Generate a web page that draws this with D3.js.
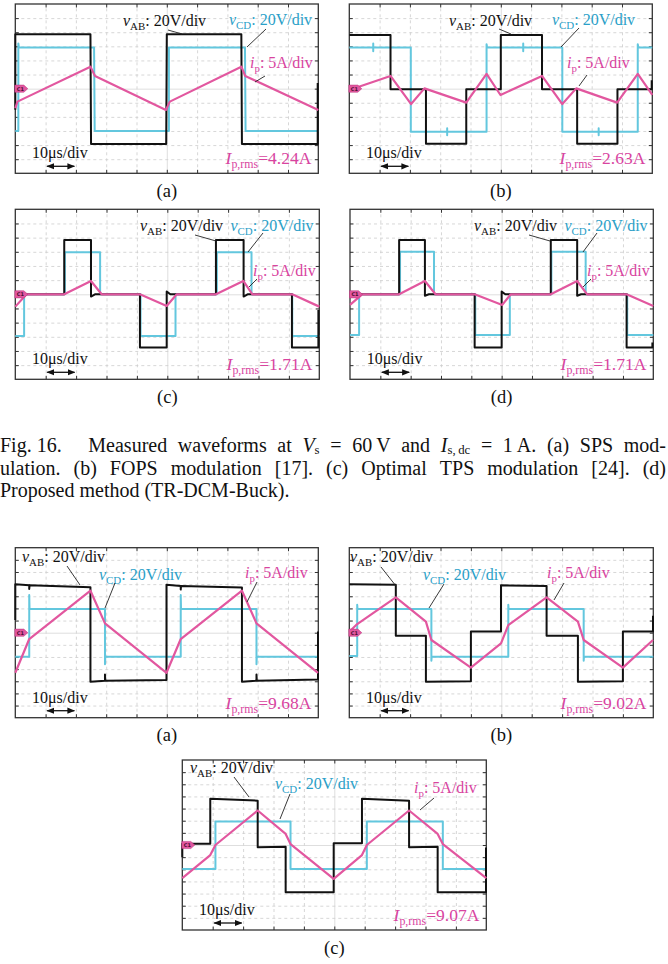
<!DOCTYPE html>
<html><head><meta charset="utf-8">
<script src="https://cdn.jsdelivr.net/npm/d3@7"></script>
<style>body{margin:0;background:#fff}svg{display:block}</style>
</head><body>
<svg id="fig" width="668" height="964"></svg>
<script>
// ===== DATA (time in divisions 0..10, level in grid-tick units, 0 = screen centre) =====
// Fig. 16 (a) SPS
const f16a_vAB = [[0,-1.5],[0,3.85],[2.48,3.85],[2.5,-3.92],[4.98,-3.92],[5.0,3.85],[7.46,3.85],[7.48,-3.92],[9.98,-3.92],[9.98,0.4]];
const f16a_vCD = [[0,-3.0],[0.1,-3.0],[0.1,3.2],[0.12,2.91],[2.6,2.91],[2.62,-3.0],[5.07,-3.0],[5.07,2.91],[7.58,2.91],[7.6,-3.0],[10,-3.0]];
const f16a_ip  = [[0,-1.39],[0.07,-0.92],[2.48,1.56],[2.63,0.9],[4.97,-1.51],[5.1,-0.92],[7.46,1.56],[7.59,0.9],[10,-1.51]];
// Fig. 16 (b) FOPS
const f16b_vAB = [[0,3.8],[1.36,3.8],[1.36,-0.05],[2.53,-0.05],[2.53,-3.9],[3.86,-3.9],[3.86,-0.05],[5.0,-0.05],[5.0,3.8],[6.36,3.8],[6.36,-0.05],[7.52,-0.05],[7.52,-3.9],[8.85,-3.9],[8.85,-0.05],[9.98,-0.05],[9.98,0.6]];
const f16b_vCD = [[0,2.91],[0.79,2.91],[0.79,3.2],[0.79,2.65],[0.79,2.91],[2.03,2.91],[2.03,-3.05],[3.23,-3.05],[3.23,-2.8],[3.23,-3.3],[3.23,-3.05],[4.53,-3.05],[4.53,3.15],[4.55,2.91],[5.74,2.91],[5.74,3.2],[5.74,2.65],[5.74,2.91],[7.03,2.91],[7.03,-3.05],[8.23,-3.05],[8.23,-2.8],[8.23,-3.3],[8.23,-3.05],[9.52,-3.05],[9.52,3.15],[9.54,2.91],[10,2.91]];
const f16b_ip  = [[0,-0.1],[1.36,0.9],[2.04,-1.09],[2.48,0.02],[3.86,-0.99],[4.53,1.04],[4.99,-0.45],[6.36,0.9],[7.03,-1.09],[7.49,0.02],[8.84,-0.99],[9.52,1.04],[10,-0.45]];
// Fig. 16 (c) optimal TPS
const f16c_vAB = [[0,0],[1.61,0],[1.61,3.84],[2.49,3.84],[2.49,-0.16],[2.62,0],[4.1,0],[4.1,-3.76],[4.98,-3.76],[4.98,0.2],[5.1,0],[6.6,0],[6.6,3.84],[7.51,3.84],[7.51,-0.16],[7.64,0],[9.1,0],[9.1,-3.76],[9.97,-3.76],[9.97,-1.1]];
const f16c_vCD = [[0,-2.94],[0.29,-2.94],[0.29,0],[1.63,0],[1.63,2.96],[2.79,2.96],[2.79,0],[4.12,0],[4.12,-2.94],[5.27,-2.94],[5.27,0],[6.63,0],[6.63,2.96],[7.77,2.96],[7.77,0],[9.11,0],[9.11,-2.94],[10,-2.94]];
const f16c_ip  = [[0,-0.87],[0.37,0],[1.61,0],[2.49,0.94],[2.84,0],[4.1,0],[4.98,-0.82],[5.31,0],[6.6,0],[7.5,0.94],[7.8,0],[9.11,0],[10,-0.87]];
// Fig. 16 (d) proposed
const f16d_vAB = [[0,0],[1.62,0],[1.62,3.84],[2.47,3.84],[2.47,-0.1],[2.6,0],[4.11,0],[4.11,-3.76],[5.0,-3.76],[5.0,0.19],[5.12,0],[6.62,0],[6.62,3.84],[7.49,3.84],[7.49,-0.1],[7.62,0],[9.12,0],[9.12,-3.76],[9.97,-3.76],[9.97,-3.4]];
const f16d_vCD = [[0,-2.87],[0.3,-2.87],[0.3,0],[1.65,0],[1.65,3.0],[2.77,3.0],[2.77,0],[4.13,0],[4.13,-2.87],[5.27,-2.87],[5.27,0],[6.64,0],[6.64,3.0],[7.77,3.0],[7.77,0],[9.14,0],[9.14,-2.87],[10,-2.87]];
const f16d_ip  = [[0,-0.75],[0.4,0],[1.62,0],[2.47,0.94],[2.82,0],[4.11,0],[5.02,-0.75],[5.3,0],[6.62,0],[7.49,0.94],[7.82,0],[9.12,0],[10,-0.82]];
// second figure (a)
const f17a_vAB = [[0,1.04],[0,3.98],[0.46,3.9],[0.46,3.6],[0.47,3.9],[2.48,3.75],[2.48,-4.04],[2.96,-3.95],[2.96,-3.45],[2.97,-3.95],[4.99,-3.9],[4.99,3.95],[5.46,3.85],[5.46,3.55],[5.47,3.85],[7.48,3.72],[7.48,-4.04],[7.96,-3.95],[7.96,-3.45],[7.97,-3.95],[9.99,-3.85],[9.99,0.1]];
const f17a_vCD = [[0,-1.98],[0.46,-1.98],[0.46,3.1],[0.47,1.95],[2.96,1.95],[2.96,-2.6],[2.97,-1.98],[5.46,-1.98],[5.46,3.1],[5.47,1.95],[7.96,1.95],[7.96,-2.6],[7.97,-1.98],[10,-1.98]];
const f17a_ip  = [[0,-3.3],[0.46,-0.52],[2.48,3.46],[2.96,0.77],[4.99,-3.3],[5.46,-0.52],[7.48,3.46],[7.96,0.77],[9.99,-3.3]];
// second figure (b)
const f17b_vAB = [[0,3.98],[1.53,3.95],[1.53,-0.25],[2.52,-0.25],[2.52,-4.04],[4.0,-4.0],[4.0,0.1],[4.99,0.1],[4.99,3.9],[6.49,3.85],[6.49,-0.25],[7.52,-0.25],[7.52,-4.04],[9.0,-4.0],[9.0,0.1],[9.99,0.1],[9.99,1.4]];
const f17b_vCD = [[0,-1.92],[0.26,-1.92],[0.26,2.3],[0.27,1.95],[2.7,1.95],[2.7,-2.3],[2.71,-1.98],[5.23,-1.98],[5.23,2.3],[5.24,1.95],[7.71,1.95],[7.71,-2.3],[7.72,-1.98],[10,-1.98]];
const f17b_ip  = [[0,0.08],[0.26,0.71],[1.53,2.91],[2.52,0.91],[2.7,-0.6],[4.0,-2.88],[4.99,-0.88],[5.23,0.63],[6.49,2.91],[7.52,0.91],[7.71,-0.6],[9.0,-2.88],[9.99,-0.6]];
// second figure (c)
const f17c_vAB = [[0,-1.0],[0,0.1],[0.92,0.1],[0.92,3.8],[2.48,3.65],[2.48,-0.19],[3.4,-0.15],[3.4,-3.9],[4.98,-3.9],[4.98,0.14],[5.91,0.14],[5.91,3.8],[7.46,3.65],[7.46,-0.19],[8.4,-0.15],[8.4,-3.9],[9.99,-3.9],[9.99,-0.2]];
const f17c_vCD = [[0,-1.98],[1.09,-1.98],[1.09,1.93],[3.56,1.93],[3.56,-1.98],[6.07,-1.98],[6.07,1.93],[8.57,1.93],[8.57,-1.98],[10,-1.98]];
const f17c_ip  = [[0,-2.73],[0.92,-0.83],[1.09,0],[2.48,2.84],[3.4,0.91],[3.56,0.08],[4.98,-2.79],[5.91,-0.83],[6.07,0],[7.46,2.84],[8.4,0.91],[8.57,0.08],[10,-2.73]];

// text data
const panelTags  = ["(a)","(b)","(c)","(d)","(a)","(b)","(c)"];
const irmsValues = ["4.24A","2.63A","1.71A","1.71A","9.68A","9.02A","9.07A"];
const vabScale = ": 20V/div", vcdScale = ": 20V/div", ipScale = ": 5A/div", timeScale = "10\u03bcs/div";
const xDivs = d3.range(0, 11);   // 10 horizontal divisions

const caption1 = [
  [{t:"Fig. 16."}],[{t:"Measured"}],[{t:"waveforms"}],[{t:"at"}],
  [{t:"V",it:1},{t:"s",sub:1}],[{t:"="}],[{t:"60\u2009V"}],[{t:"and"}],
  [{t:"I",it:1},{t:"s,\u2009dc",sub:1}],[{t:"="}],[{t:"1\u2009A."}],[{t:"(a)"}],[{t:"SPS"}],[{t:"mod-"}]];
const caption2 = ["ulation.","(b)","FOPS","modulation","[17].","(c)","Optimal","TPS","modulation","[24].","(d)"];
const caption3 = "Proposed method (TR-DCM-Buck).";

// ===== LAYOUT / STYLE =====
const FONT = "'Liberation Serif','Times New Roman',serif";
const C_BLK = "#111", C_CYN = "#63c7de", C_PNK = "#e2579f", C_CYN_T = "#2aa0c8", C_PNK_T = "#d8449f";
const svg = d3.select("#fig");

const layout = [
 {d:[f16a_vAB,f16a_vCD,f16a_ip], x0:15.3,x1:318.3,y0:4,y1:173.3,n:6,
  vab:[123,26], vabL:[168,30,182,34], vcd:[229,25], vcdL:[266,29,247,47], ip:[250,68], ipL:[265,76,255,82]},
 {d:[f16b_vAB,f16b_vCD,f16b_ip], x0:349.3,x1:652.3,y0:4,y1:173.3,n:6,
  vab:[449,26], vabL:[499,29,511,34], vcd:[552,25], vcdL:[579,28,561,47], ip:[567,68], ipL:[587,75,579,86]},
 {d:[f16c_vAB,f16c_vCD,f16c_ip], x0:15.3,x1:319.3,y0:209.3,y1:379.3,n:6,
  vab:[140,230.5], vabL:[195,235,216,241], vcd:[230.5,230.5], vcdL:[263,233,248,252], ip:[253,275.5], ipL:[257,279,249,287]},
 {d:[f16d_vAB,f16d_vCD,f16d_ip], x0:350,x1:653.3,y0:209.3,y1:379.3,n:6,
  vab:[474,230.5], vabL:[529,235,550,241], vcd:[564.5,230.5], vcdL:[597,233,583,252], ip:[587,275.5], ipL:[591,279,583,287]},
 {d:[f17a_vAB,f17a_vCD,f17a_ip], x0:15.3,x1:318.3,y0:547.7,y1:717.7,n:7,
  vab:[22,562], vabL:[67,566,80,585], vcd:[99,580], vcdL:[115,583,105,608], ip:[245,578], ipL:[257,582,247,602]},
 {d:[f17b_vAB,f17b_vCD,f17b_ip], x0:349.3,x1:653.3,y0:547.7,y1:717.7,n:7,
  vab:[350,562], vabL:[381,567,396,586], vcd:[423,580], vcdL:[444,584,429,608], ip:[547,578], ipL:[564,583,554,600]},
 {d:[f17c_vAB,f17c_vCD,f17c_ip], x0:182.3,x1:486.3,y0:760,y1:930,n:7,
  vab:[190,773], vabL:[234,777,249,797], vcd:[275,789], vcdL:[290,794,280,819], ip:[414,793], ipL:[434,798,420,810]}
];

// arrow marker
const defs = svg.append("defs");
defs.append("marker").attr("id","ah").attr("viewBox","0 0 10 10").attr("refX",9).attr("refY",5)
  .attr("markerWidth",6).attr("markerHeight",6).attr("orient","auto-start-reverse")
  .append("path").attr("d","M0,1 L10,5 L0,9 z").attr("fill",C_BLK);

function rich(parent, x, y, parts, fs, fill, anchor, subk, subs){
  const t = parent.append("text").attr("x",x).attr("y",y).attr("font-family",FONT)
    .attr("font-size",fs).attr("fill",fill);
  if (anchor) t.attr("text-anchor",anchor);
  let shifted = 0;
  parts.forEach(p=>{
    const s = t.append("tspan").text(p.t);
    if (p.it) s.attr("font-style","italic");
    const want = p.sub ? Math.round(fs*(subk||0.24)) : 0;
    if (want !== shifted){ s.attr("dy", want-shifted); shifted = want; }
    if (p.sub) s.attr("font-size", fs*(subs||0.68));
  });
  return t;
}

layout.forEach((p,i)=>{
  const g = svg.append("g");
  const x = d3.scaleLinear().domain([0,10]).range([p.x0,p.x1]);
  const y = d3.scaleLinear().domain([-p.n,p.n]).range([p.y1,p.y0]);
  const H = p.y1-p.y0, W = p.x1-p.x0;
  const yTicks = d3.range(-p.n+1, p.n);
  const xTicks = xDivs.slice(1,-1);
  // grid
  g.append("g").attr("transform",`translate(0,${p.y1})`)
    .call(d3.axisBottom(x).tickValues(xTicks).tickSize(-H).tickFormat(""))
    .call(s=>{s.select(".domain").remove();
      s.selectAll("line").attr("stroke",d=>d===5?"#d6d6d6":"#cdcdcd").attr("stroke-width",0.8)
       .attr("stroke-dasharray",d=>d===5?null:"3,3");});
  g.append("g").attr("transform",`translate(${p.x0},0)`)
    .call(d3.axisLeft(y).tickValues(yTicks).tickSize(-W).tickFormat(""))
    .call(s=>{s.select(".domain").remove();
      s.selectAll("line").attr("stroke",d=>d===0?"#d6d6d6":"#cdcdcd").attr("stroke-width",0.8)
       .attr("stroke-dasharray",d=>d===0?null:"3,3");});
  // frame ticks
  const tk = 3.5;
  const styleT = s=>{s.select(".domain").remove(); s.selectAll("line").attr("stroke","#333").attr("stroke-width",1);};
  g.append("g").attr("transform",`translate(${p.x0},0)`).call(d3.axisLeft(y).tickValues(yTicks).tickSize(-tk).tickFormat("")).call(styleT);
  g.append("g").attr("transform",`translate(${p.x1},0)`).call(d3.axisRight(y).tickValues(yTicks).tickSize(-tk).tickFormat("")).call(styleT);
  g.append("g").attr("transform",`translate(0,${p.y0})`).call(d3.axisTop(x).tickValues(xTicks).tickSize(-tk).tickFormat("")).call(styleT);
  g.append("g").attr("transform",`translate(0,${p.y1})`).call(d3.axisBottom(x).tickValues(xTicks).tickSize(-tk).tickFormat("")).call(styleT);
  g.append("rect").attr("x",p.x0).attr("y",p.y0).attr("width",W).attr("height",H)
    .attr("fill","none").attr("stroke","#333").attr("stroke-width",1.3);
  // waveforms
  const line = d3.line().x(d=>x(d[0])).y(d=>y(d[1]));
  const [vab,vcd,ip] = p.d;
  g.append("path").datum(vcd).attr("d",line).attr("fill","none").attr("stroke",C_CYN).attr("stroke-width",2).attr("stroke-linejoin","round");
  g.append("path").datum(vab).attr("d",line).attr("fill","none").attr("stroke",C_BLK).attr("stroke-width",2).attr("stroke-linejoin","round");
  g.append("path").datum(ip).attr("d",line).attr("fill","none").attr("stroke",C_PNK).attr("stroke-width",2.2).attr("stroke-linejoin","round");
  // channel marker
  const mx = x(0), my = y(0);
  g.append("path").attr("d",`M${mx-0.5},${my-3.6} L${mx+8.5},${my-3.6} L${mx+12.5},${my} L${mx+8.5},${my+3.6} L${mx-0.5},${my+3.6} Z`)
    .attr("fill",C_PNK).attr("stroke","#b8337a").attr("stroke-width",0.5);
  g.append("text").attr("x",mx+5).attr("y",my+2).attr("text-anchor","middle").attr("font-family","DejaVu Sans")
    .attr("font-size",5).attr("font-weight","bold").attr("fill","#4a1030").text("C1");
  // annotations
  rich(g, p.vab[0], p.vab[1], [{t:"v",it:1},{t:"AB",sub:1},{t:vabScale}], 16, C_BLK);
  rich(g, p.vcd[0], p.vcd[1], [{t:"v",it:1},{t:"CD",sub:1},{t:vcdScale}], 16, C_CYN_T);
  rich(g, p.ip[0], p.ip[1], [{t:"i",it:1},{t:"p",sub:1},{t:ipScale}], 16, C_PNK_T);
  [p.vabL,p.vcdL,p.ipL].forEach(L=>{
    g.append("line").attr("x1",L[0]).attr("y1",L[1]).attr("x2",L[2]).attr("y2",L[3])
      .attr("stroke","#222").attr("stroke-width",0.9);
  });
  rich(g, p.x0+16.7, p.y1-15, [{t:timeScale}], 16, C_BLK);
  g.append("line").attr("x1",x(1)+1.5).attr("x2",x(2)-1.5).attr("y1",p.y1-7).attr("y2",p.y1-7)
    .attr("stroke",C_BLK).attr("stroke-width",1.3).attr("marker-start","url(#ah)").attr("marker-end","url(#ah)");
  rich(g, p.x1-7, p.y1-9, [{t:"I",it:1},{t:"p,rms",sub:1},{t:"="+irmsValues[i]}], 17.5, C_PNK_T, "end");
  rich(g, (p.x0+p.x1)/2, p.y1+23.5, [{t:panelTags[i]}], 18.5, C_BLK, "middle");
});

// ===== caption =====
const CFS = 20, CW = 666;
function justify(groups, yb, firstGap){
  const els = groups.map(gp=>rich(svg, 0, yb, gp, CFS, C_BLK, null, 0.1, 0.64));
  const widths = els.map(e=>e.node().getComputedTextLength());
  const total = d3.sum(widths) + (firstGap||0);
  const gap = (CW - total)/(groups.length-1);
  let cx = 0;
  els.forEach((e,k)=>{
    e.attr("x",cx);
    cx += widths[k] + gap + (k===0 && firstGap ? firstGap : 0);
  });
}
justify(caption1, 451.5, 16);
justify(caption2.map(w=>[{t:w}]), 474.5, 0);
rich(svg, 0, 496.5, [{t:caption3}], CFS, C_BLK);
</script>
</body></html>
